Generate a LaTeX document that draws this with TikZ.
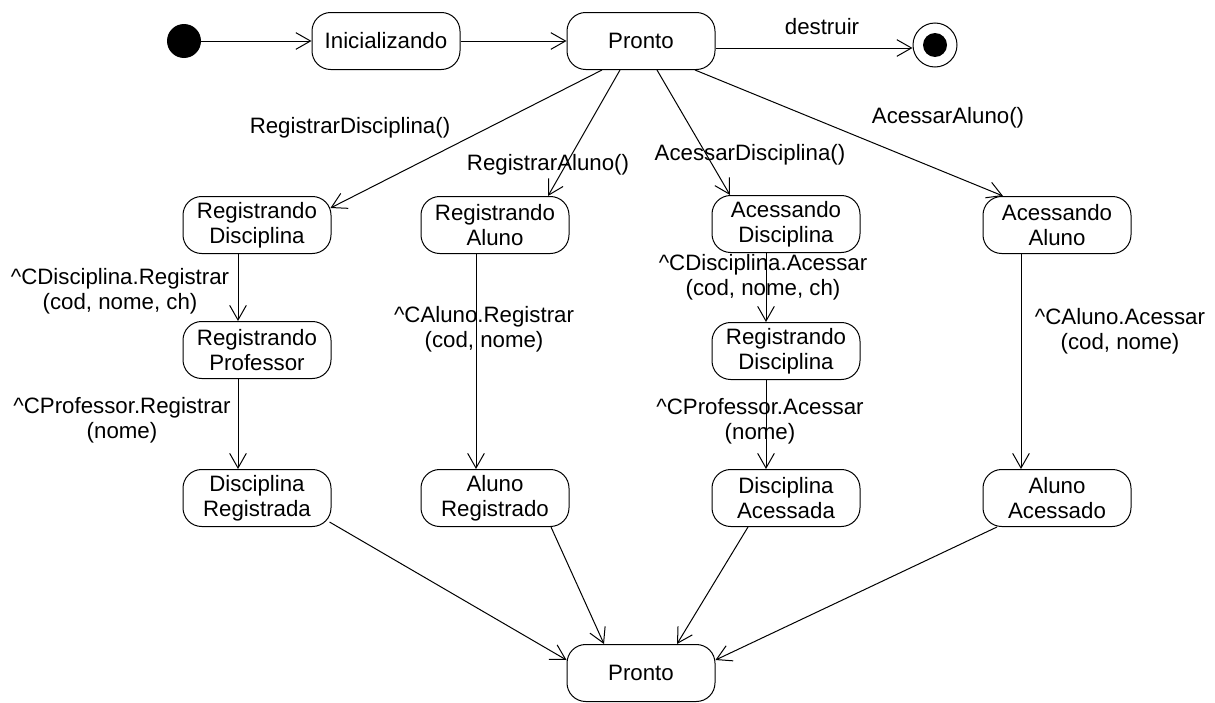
\documentclass[tikz,border=0pt]{standalone}
\usepackage{fontspec}
\setmainfont{Liberation Sans}
\usetikzlibrary{arrows.meta,calc}
\begin{document}
\begin{tikzpicture}[x=0.75pt,y=-0.75pt,
  txt/.style={font=\fontsize{16.7}{18.5}\selectfont},
  state/.style={txt, draw, line width=0.75pt, rounded corners=14pt, minimum width=111pt, minimum height=42.75pt, align=center, inner sep=0pt},
  lbl/.style={txt, align=center, inner sep=0pt},
  arr/.style={-{Straight Barb[length=11pt,width=12.5pt]}, line width=0.75pt}]
\useasboundingbox (0,0) rectangle (1215,703);
% nodes
\node[circle, fill=black, minimum size=25.5pt, inner sep=0pt] (init) at (184,41) {};
\node[state] (ini) at (386,41) {Inicializando};
\node[state] (p1) at (641,41) {Pronto};
\node[circle, draw, line width=0.75pt, minimum size=33pt, inner sep=0pt] (fin) at (935,45) {};
\node[circle, fill=black, minimum size=18pt, inner sep=0pt] (finin) at (fin) {};
\node[state] (rd) at (257,225) {Registrando\\Disciplina};
\node[state] (ra) at (495,225) {Registrando\\Aluno};
\node[state] (ad) at (786,224) {Acessando\\Disciplina};
\node[state] (aa) at (1057,225) {Acessando\\Aluno};
\node[state] (rp) at (257,350) {Registrando\\Professor};
\node[state] (rd2) at (786,351) {Registrando\\Disciplina};
\node[state] (dr) at (257,498) {Disciplina\\Registrada};
\node[state] (ar) at (495,498) {Aluno\\Registrado};
\node[state] (da) at (786,498) {Disciplina\\Acessada};
\node[state] (aa2) at (1057,498) {Aluno\\Acessado};
\node[state] (p2) at (641,673) {Pronto};
% labels
\node[lbl] (ldes) at (822,27) {destruir};
\node[lbl] (lrd) at (350,128) {RegistrarDisciplina()};
\node[lbl] (lra) at (548,165) {RegistrarAluno()};
\node[lbl] (lad) at (750,155) {AcessarDisciplina()};
\node[lbl] (laa) at (948,118) {AcessarAluno()};
\node[lbl] (l1) at (120,291) {\^{}CDisciplina.Registrar\\(cod, nome, ch)};
\node[lbl] (l2) at (122,420) {\^{}CProfessor.Registrar\\(nome)};
\node[lbl] (l3) at (484,329) {\^{}CAluno.Registrar\\(cod, nome)};
\node[lbl] (l4) at (763,277) {\^{}CDisciplina.Acessar\\(cod, nome, ch)};
\node[lbl] (l5) at (760,421) {\^{}CProfessor.Acessar\\(nome)};
\node[lbl] (l6) at (1120,331) {\^{}CAluno.Acessar\\(cod, nome)};
% connectors
\draw[arr] (init) -- (ini);
\draw[arr] (ini) -- (p1);
\draw[arr] ($(p1.east)+(0,7)$) -- ($(fin.west)+(0,3)$);
\draw[arr] ($(p1.south)+(-39,0)$) -- ($(rd.east)+(-1,-17)$);
\draw[arr] ($(p1.south)+(-21,0)$) -- ($(ra.north)+(53,0)$);
\draw[arr] ($(p1.south)+(16,0)$) -- ($(ad.north)+(-56,0)$);
\draw[arr] ($(p1.south)+(54,0)$) -- ($(aa.north)+(-54,0)$);
\draw[arr] ($(rd.south)+(-19,0)$) -- ($(rp.north)+(-19,0)$);
\draw[arr] ($(rp.south)+(-19,0)$) -- ($(dr.north)+(-19,0)$);
\draw[arr] ($(ra.south)+(-19,0)$) -- ($(ar.north)+(-19,0)$);
\draw[arr] ($(ad.south)+(-20,0)$) -- ($(rd2.north)+(-20,0)$);
\draw[arr] ($(rd2.south)+(-20,0)$) -- ($(da.north)+(-20,0)$);
\draw[arr] ($(aa.south)+(-36,0)$) -- ($(aa2.north)+(-36,0)$);
\draw[arr] ($(dr.east)+(-2,24)$) -- ($(p2.west)+(0,-13)$);
\draw[arr] ($(ar.south)+(56,0)$) -- ($(p2.north)+(-37,0)$);
\draw[arr] ($(da.south)+(-38,0)$) -- ($(p2.north)+(36,0)$);
\draw[arr] ($(aa2.south)+(-60,0)$) -- ($(p2.east)+(0,-13)$);
\end{tikzpicture}
\end{document}
